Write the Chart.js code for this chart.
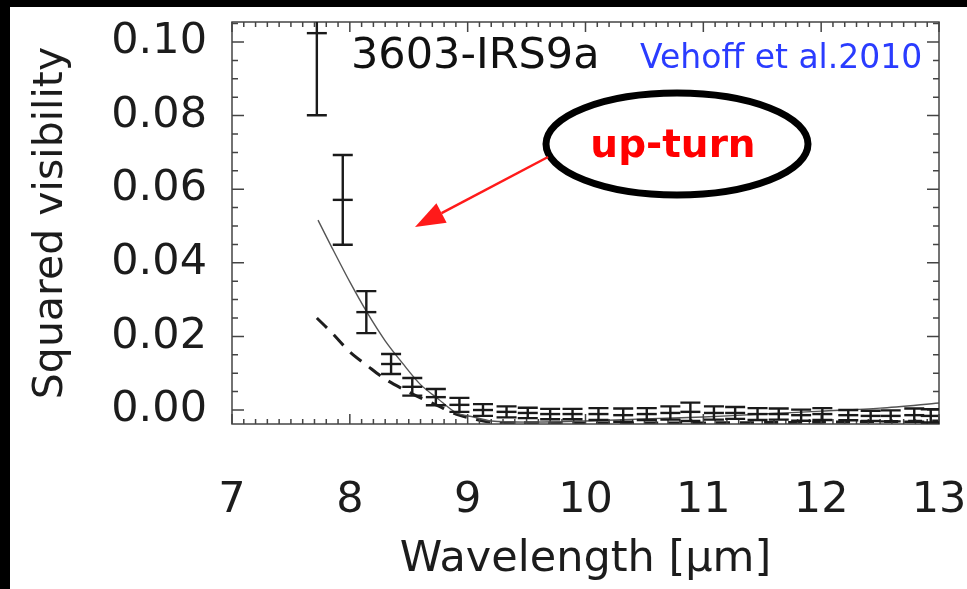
<!DOCTYPE html>
<html>
<head>
<meta charset="utf-8">
<script src="https://cdn.jsdelivr.net/npm/chart.js@4.4.1/dist/chart.umd.min.js"></script>
<style>
  html, body { margin: 0; padding: 0; background: #fff; }
</style>
</head>
<body>
<canvas id="myChart" width="967" height="589"></canvas>
<script>
const wavelength = [7.72, 7.94, 8.14, 8.35, 8.53, 8.73, 8.93, 9.13, 9.33, 9.51, 9.70, 9.89, 10.11, 10.32,
  10.52, 10.72, 10.89, 11.09, 11.27, 11.46, 11.64, 11.83, 12.01, 12.23, 12.42, 12.59, 12.79, 12.93];
const visSq = [0.1024, 0.0571, 0.0266, 0.0125, 0.0063, 0.0035, 0.0014, 0.0000, -0.0005, -0.0008, -0.0011, -0.0011,
  -0.0011, -0.0014, -0.0011, -0.0008, -0.0005, -0.0008, -0.0008, -0.0011, -0.0011, -0.0014, -0.0011, -0.0014,
  -0.0016, -0.0016, -0.0014, -0.0016];
const visErr = [0.0223, 0.0122, 0.0057, 0.0027, 0.0024, 0.0022, 0.0019, 0.0016, 0.0015, 0.0014, 0.0014, 0.0014,
  0.0016, 0.0018, 0.0016, 0.0018, 0.0025, 0.0018, 0.0016, 0.0016, 0.0015, 0.0015, 0.0016, 0.0014,
  0.0014, 0.0015, 0.0018, 0.0018];

// model curves
const modelWl = [7.73, 7.85, 8.0, 8.15, 8.3, 8.45, 8.6, 8.75, 8.9, 9.05, 9.2, 9.5, 10.0, 10.5, 11.0, 11.5, 12.0, 12.5, 13.0];
const modelSolid = [0.0516, 0.0440, 0.0348, 0.0263, 0.0188, 0.0126, 0.0069, 0.0030, -0.0007, -0.0019, -0.0030,
  -0.0033, -0.0030, -0.0024, -0.0019, -0.0011, -0.0003, 0.0005, 0.0019];
const dashWl = [7.72, 7.85, 8.0, 8.15, 8.3, 8.45, 8.6, 8.75, 8.9, 9.05, 9.2, 10.0, 11.0, 12.0, 13.0];
const modelDashed = [0.0250, 0.0209, 0.0158, 0.0120, 0.0084, 0.0057, 0.0033, 0.0011, -0.0011, -0.0024, -0.0033,
  -0.0035, -0.0035, -0.0033, -0.0030];

const xTicks = [7, 8, 9, 10, 11, 12, 13];
const yTicks = [0.00, 0.02, 0.04, 0.06, 0.08, 0.10];

const FONT = 'DejaVu Sans';
const INK = '#1c1c1c';

const pts = (xs, ys) => xs.map((v, i) => ({x: v, y: ys[i]}));

// white page + black frame strips, plot box with inward ticks
const frame = {
  id: 'frame',
  beforeDraw(chart) {
    const ctx = chart.ctx;
    ctx.save();
    ctx.fillStyle = '#fff';
    ctx.fillRect(0, 0, chart.width, chart.height);
    ctx.fillStyle = '#000';
    ctx.fillRect(0, 0, chart.width, 7);
    ctx.fillRect(0, 0, 10, chart.height);
    ctx.restore();
  },
  afterDatasetsDraw(chart) {
    const {ctx, chartArea: a, scales: {x, y}} = chart;
    ctx.save();
    ctx.strokeStyle = '#444';
    ctx.lineWidth = 1.5;
    ctx.strokeRect(a.left, a.top, a.width, a.height);
    ctx.beginPath();
    for (let i = 70; i <= 130; i++) {
      const px = x.getPixelForValue(i / 10);
      const len = i % 10 === 0 ? 10 : 5;
      ctx.moveTo(px, a.bottom); ctx.lineTo(px, a.bottom - len);
      ctx.moveTo(px, a.top); ctx.lineTo(px, a.top + len);
    }
    for (let j = 0; j <= 21; j++) {
      const py = y.getPixelForValue(j * 0.005);
      const len = j % 4 === 0 ? 12 : 6;
      ctx.moveTo(a.left, py); ctx.lineTo(a.left + len, py);
      ctx.moveTo(a.right, py); ctx.lineTo(a.right - len, py);
    }
    ctx.stroke();
    ctx.restore();
  }
};

const errorBars = {
  id: 'errorBars',
  afterDatasetsDraw(chart) {
    const {ctx, chartArea: a, scales: {x, y}} = chart;
    ctx.save();
    ctx.beginPath();
    ctx.rect(a.left, a.top, a.width, a.height);
    ctx.clip();
    ctx.strokeStyle = '#1a1a1a';
    ctx.lineWidth = 2.4;
    wavelength.forEach((w, i) => {
      const px = x.getPixelForValue(w);
      const top = y.getPixelForValue(visSq[i] + visErr[i]);
      const bot = y.getPixelForValue(visSq[i] - visErr[i]);
      ctx.beginPath();
      ctx.moveTo(px, top); ctx.lineTo(px, bot);
      ctx.moveTo(px - 10, top); ctx.lineTo(px + 10, top);
      ctx.moveTo(px - 10, bot); ctx.lineTo(px + 10, bot);
      ctx.stroke();
    });
    ctx.restore();
  }
};

// labels, ellipse and arrow pasted on the slide
const notes = {
  id: 'notes',
  afterDraw(chart) {
    const ctx = chart.ctx;
    ctx.save();
    ctx.textBaseline = 'alphabetic';
    ctx.textAlign = 'left';
    ctx.fillStyle = '#111';
    ctx.font = `43px "${FONT}"`;
    ctx.fillText('3603-IRS9a', 351, 68);
    ctx.fillStyle = '#2a3cff';
    ctx.font = `33px "${FONT}"`;
    ctx.fillText('Vehoff et al.2010', 640, 68);

    ctx.strokeStyle = '#000';
    ctx.lineWidth = 7;
    ctx.beginPath();
    ctx.ellipse(677, 144, 131, 51, 0, 0, Math.PI * 2);
    ctx.stroke();

    ctx.fillStyle = '#ff0000';
    ctx.font = `bold 39px "${FONT}"`;
    ctx.textAlign = 'center';
    ctx.fillText('up-turn', 673, 157);

    // arrow
    const x0 = 548, y0 = 157, x1 = 415, y1 = 227;
    const ang = Math.atan2(y1 - y0, x1 - x0);
    const hl = 30, hw = 11;
    const bx = x1 - hl * Math.cos(ang), by = y1 - hl * Math.sin(ang);
    ctx.strokeStyle = '#ff1a1a';
    ctx.lineWidth = 2.5;
    ctx.beginPath();
    ctx.moveTo(x0, y0); ctx.lineTo(bx, by);
    ctx.stroke();
    ctx.fillStyle = '#ff1a1a';
    ctx.beginPath();
    ctx.moveTo(x1, y1);
    ctx.lineTo(bx + hw * Math.sin(ang), by - hw * Math.cos(ang));
    ctx.lineTo(bx - hw * Math.sin(ang), by + hw * Math.cos(ang));
    ctx.closePath();
    ctx.fill();
    ctx.restore();
  }
};

const ctx = document.getElementById('myChart').getContext('2d');
const myChart = new Chart(ctx, {
  type: 'scatter',
  data: {
    datasets: [
      {
        label: 'V2',
        data: pts(wavelength, visSq),
        pointStyle: 'line',
        pointRadius: 10,
        pointBorderWidth: 2.4,
        borderColor: '#1a1a1a',
        backgroundColor: '#1a1a1a'
      },
      {
        label: 'model',
        data: pts(modelWl, modelSolid),
        showLine: true,
        pointRadius: 0,
        borderColor: '#555',
        borderWidth: 1.4,
        tension: 0.3
      },
      {
        label: 'model (dashed)',
        data: pts(dashWl, modelDashed),
        showLine: true,
        pointRadius: 0,
        borderColor: '#1e1e1e',
        borderWidth: 3,
        borderDash: [14, 10],
        tension: 0.3
      }
    ]
  },
  options: {
    responsive: false,
    animation: false,
    layout: { padding: { top: 22, right: 28, left: 0, bottom: 0 } },
    plugins: { legend: { display: false }, tooltip: { enabled: false } },
    scales: {
      x: {
        type: 'linear',
        min: 7,
        max: 13,
        grid: { display: false },
        border: { display: false },
        afterBuildTicks: s => { s.ticks = xTicks.map(v => ({value: v})); },
        afterFit: s => { s.height = 165; s.paddingLeft = 0; s.paddingRight = 0; },
        ticks: {
          maxRotation: 0,
          autoSkip: false,
          padding: 43,
          color: INK,
          font: { family: FONT, size: 43 }
        },
        title: {
          display: true,
          text: 'Wavelength [µm]',
          color: INK,
          font: { family: FONT, size: 43 },
          padding: { top: 0, bottom: 3 }
        }
      },
      y: {
        min: -0.0038,
        max: 0.10543,
        grid: { display: false },
        border: { display: false },
        afterBuildTicks: s => { s.ticks = yTicks.map(v => ({value: v})); },
        afterFit: s => { s.width = 232; s.paddingTop = 0; s.paddingBottom = 0; },
        ticks: {
          padding: 17,
          color: INK,
          font: { family: FONT, size: 43 },
          callback: v => v.toFixed(2)
        },
        title: {
          display: true,
          text: 'Squared visibility',
          color: INK,
          font: { family: FONT, size: 41 },
          padding: { top: 27, bottom: 0 }
        }
      }
    }
  },
  plugins: [frame, errorBars, notes]
});
</script>
</body>
</html>
